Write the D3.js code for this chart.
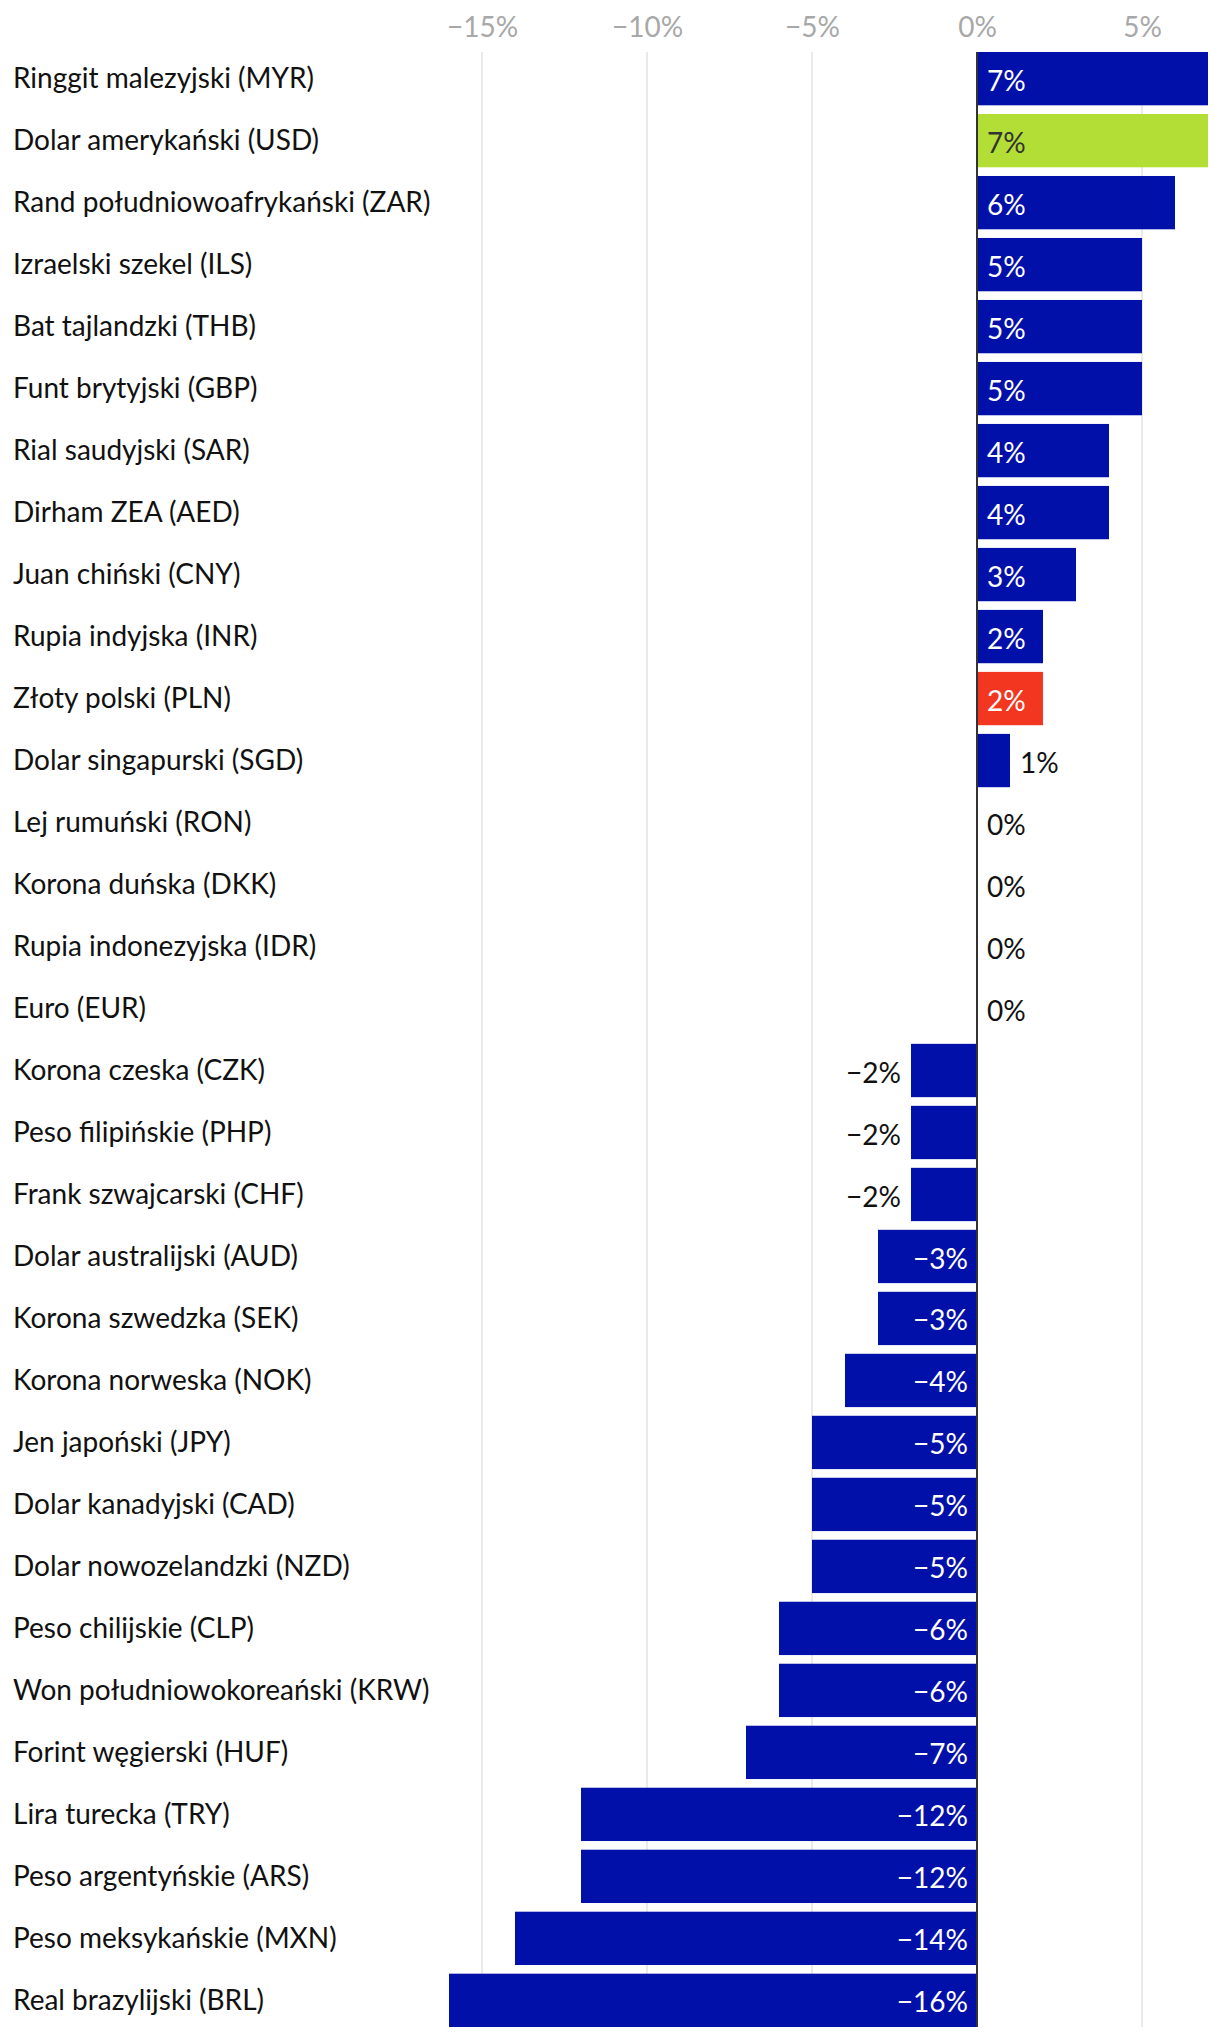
<!DOCTYPE html>
<html><head><meta charset="utf-8">
<script src="https://cdn.jsdelivr.net/npm/d3@7"></script>
<style>body{margin:0;background:#fff}svg{display:block}text{font-family:Lato,"Noto Sans",sans-serif}</style>
</head><body>
<svg id="c" width="1220" height="2038"></svg>
<script>
const categories = ["Ringgit malezyjski (MYR)","Dolar amerykański (USD)","Rand południowoafrykański (ZAR)","Izraelski szekel (ILS)","Bat tajlandzki (THB)","Funt brytyjski (GBP)","Rial saudyjski (SAR)","Dirham ZEA (AED)","Juan chiński (CNY)","Rupia indyjska (INR)","Złoty polski (PLN)","Dolar singapurski (SGD)","Lej rumuński (RON)","Korona duńska (DKK)","Rupia indonezyjska (IDR)","Euro (EUR)","Korona czeska (CZK)","Peso filipińskie (PHP)","Frank szwajcarski (CHF)","Dolar australijski (AUD)","Korona szwedzka (SEK)","Korona norweska (NOK)","Jen japoński (JPY)","Dolar kanadyjski (CAD)","Dolar nowozelandzki (NZD)","Peso chilijskie (CLP)","Won południowokoreański (KRW)","Forint węgierski (HUF)","Lira turecka (TRY)","Peso argentyńskie (ARS)","Peso meksykańskie (MXN)","Real brazylijski (BRL)"];
const values = [7,7,6,5,5,5,4,4,3,2,2,1,0,0,0,0,-2,-2,-2,-3,-3,-4,-5,-5,-5,-6,-6,-7,-12,-12,-14,-16];
const highlight = {"Dolar amerykański (USD)":"usd","Złoty polski (PLN)":"pln"};
const tickValues = [-15,-10,-5,0,5];

const colors = {base:"#0210aa", usd:"#b3de36", pln:"#f2361f"};
const svg = d3.select("#c");
const x = d3.scaleLinear().domain([-16,7]).range([449,1208]);
const y = d3.scaleBand().domain(categories).range([52,2027]).paddingInner(0.14).paddingOuter(0);
const fmt = v => d3.format("d")(v) + "%";
const FS = 28;

// grid
svg.append("g").selectAll("line").data(tickValues.filter(t=>t!==0)).join("line")
  .attr("x1",d=>x(d)).attr("x2",d=>x(d)).attr("y1",52).attr("y2",2027)
  .attr("stroke","#e3e3e3").attr("stroke-width",1.5);

// axis
const ax = svg.append("g").attr("transform","translate(0,37)")
  .call(d3.axisTop(x).tickValues(tickValues).tickFormat(fmt).tickSize(0).tickPadding(0));
ax.select(".domain").remove();
ax.selectAll("text").attr("font-size",FS).attr("fill","#a8a8a8").attr("font-family","Lato").attr("dy","0");

// bars
svg.append("g").selectAll("rect").data(categories).join("rect")
  .attr("x",(d,i)=>x(Math.min(0,values[i])))
  .attr("width",(d,i)=>Math.abs(x(values[i])-x(0)))
  .attr("y",d=>y(d)).attr("height",y.bandwidth())
  .attr("fill",d=>colors[highlight[d]||"base"]);

// category labels
svg.append("g").selectAll("text").data(categories).join("text")
  .attr("x",13).attr("y",d=>y(d)+y.bandwidth()/2).attr("dy","0.35em")
  .attr("font-size",FS).attr("fill","#111").text(d=>d);

// value labels
const vl = svg.append("g");
categories.forEach((c,i)=>{
  const v = values[i];
  const t = vl.append("text").attr("font-size",FS).attr("y",y(c)+y.bandwidth()/2).attr("dy","0.43em").text(fmt(v));
  const w = t.node().getComputedTextLength();
  const bw = Math.abs(x(v)-x(0));
  const inside = w + 20 <= bw;
  if (v >= 0) {
    t.attr("text-anchor","start").attr("x", inside ? x(0)+10 : x(v)+10);
  } else {
    t.attr("text-anchor","end").attr("x", inside ? x(0)-9 : x(v)-10);
  }
  t.attr("fill", inside ? (highlight[c]==="usd" ? "#333" : "#fff") : "#111");
});

// zero line
svg.append("line").attr("x1",x(0)).attr("x2",x(0)).attr("y1",52).attr("y2",2027)
  .attr("stroke","#333").attr("stroke-width",2);
</script>
</body></html>
